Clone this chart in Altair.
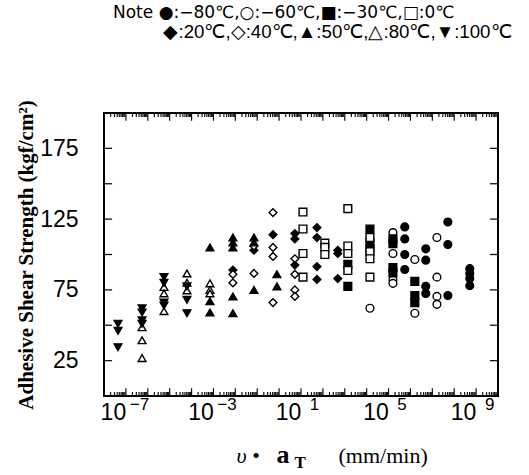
import altair as alt
import pandas as pd

# ---- data (x as log10 of v*aT, y in kgf/cm2) ----
series_names = ["−80℃", "−60℃", "−30℃", "0℃", "20℃", "40℃", "50℃", "80℃", "100℃"]
series_shapes = ["circle", "circle", "square", "square", "diamond", "diamond",
                 "triangle-up", "triangle-up", "triangle-down"]
series_fills = ["black", "white", "black", "white", "black", "white", "black", "white", "black"]
series_sizes = [60, 60, 60, 60, 100, 100, 70, 70, 70]

m80_x = [5.74, 5.74, 5.74, 5.74, 6.70, 6.70, 6.70, 6.70, 7.71, 7.71, 7.71, 8.71, 8.71, 8.71, 8.71]
m80_y = [119.5, 111, 100, 89.4, 104, 96, 77.5, 72.5, 123, 107, 71, 90, 86.6, 83, 78]
m60_x = [4.15, 5.20, 5.20, 5.20, 5.20, 6.20, 6.20, 7.21, 7.21, 7.21, 7.21]
m60_y = [62, 115.5, 100.7, 82, 79.6, 96.5, 58.5, 112, 84, 70.4, 64.8]
m30_x = [3.14, 3.14, 4.15, 4.15, 4.15, 5.20, 5.20, 5.20, 5.20, 6.20, 6.20, 6.20]
m30_y = [93, 77.5, 118, 108.5, 104, 111, 107.7, 90.8, 87, 81, 71, 66]
p0_x = [1.09, 1.09, 1.09, 1.09, 2.09, 2.09, 2.09, 3.14, 3.14, 3.14, 3.14, 4.15, 4.15, 4.15, 4.15]
p0_y = [130, 118, 100.7, 84, 108, 105, 100, 132.4, 106, 100.7, 88.7, 112, 102, 97, 84]
p20_x = [-2.11, -1.15, -0.28, 0.72, 0.72, 0.72, 1.73, 1.73, 1.73, 1.73, 2.68, 2.68, 2.68]
p20_y = [89, 103, 114, 114.8, 111, 92.5, 119, 112, 91.5, 82.4, 103, 100.7, 83]
p40_x = [-2.11, -2.11, -1.15, -1.15, -0.28, -0.28, -0.28, -0.28, 0.72, 0.72, 0.72, 0.72]
p40_y = [86, 80, 106, 86.6, 129.6, 105, 98.6, 66, 97, 86, 75, 70.4]
p50_x = [-3.16, -3.16, -3.16, -2.11, -2.11, -2.11, -2.11, -2.11, -1.15, -1.15, -1.15, -0.10, -0.10]
p50_y = [105, 67, 59, 112, 108.5, 105, 70.4, 58.5, 112, 108.5, 75, 86, 77.5]
p80_x = [-6.26, -6.26, -6.26, -5.26, -5.26, -5.26, -4.21, -4.21, -4.21, -3.16, -3.16, -3.16]
p80_y = [48.6, 39.4, 26.8, 77, 72.5, 60, 86.6, 80, 74.6, 79.6, 75, 72.5]
p100_x = [-7.36, -7.36, -7.36, -6.26, -6.26, -6.26, -6.26, -5.26, -5.26, -5.26, -5.26, -4.21, -4.21, -4.21]
p100_y = [51, 46, 34.5, 62, 59, 53.5, 51, 84, 80, 66, 64, 77.5, 68, 58.5]

xs_all = [m80_x, m60_x, m30_x, p0_x, p20_x, p40_x, p50_x, p80_x, p100_x]
ys_all = [m80_y, m60_y, m30_y, p0_y, p20_y, p40_y, p50_y, p80_y, p100_y]

x_label_values = [1e-7, 1e-3, 1e1, 1e5, 1e9]
y_label_values = [25, 75, 125, 175]
y_tick_values = [25, 50, 75, 100, 125, 150, 175]

note_line1 = "Note ●:−80℃,○:−60℃,■:−30℃,□:0℃"
note_line2 = "\u2060\u2003\u2003\u2002\u2009◆:20℃,◇:40℃,▲:50℃,△:80℃,▼:100℃"

rows = []
for name, xs, ys in zip(series_names, xs_all, ys_all):
    for a, b in zip(xs, ys):
        rows.append({"series": name, "v": 10.0 ** a, "s": b})
df = pd.DataFrame(rows)

W, H = 394, 283
X_LO, X_HI, Y_LO, Y_HI = 1e-8, 1e10, 0, 200     # values at the frame edges
PADPX = 5                                         # scale padding in pixels
pad_dec = PADPX * 18.0 / W
pad_y = PADPX * (Y_HI - Y_LO) / H
xscale = alt.Scale(type="log", domain=[10 ** (-8 + pad_dec), 10 ** (10 - pad_dec)],
                   nice=False, padding=PADPX)
yscale = alt.Scale(domain=[Y_LO + pad_y, Y_HI - pad_y], nice=False, zero=False, padding=PADPX)

# inward frame ticks (positions from the scales; lengths in data units)
major = [10.0 ** k for k in range(-7, 10)]
minor = [m * 10.0 ** k for k in range(-8, 10) for m in range(2, 10)]
MAJ_LEN, MIN_LEN = 5.5, 2.8          # in y units
Y_TICK_DEC = 0.37                     # in decades of x
xt = pd.DataFrame({"v": major + minor,
                   "ln": [MAJ_LEN] * len(major) + [MIN_LEN] * len(minor)})
xt["b0"] = Y_LO
xt["b1"] = Y_LO + xt["ln"]
xt["t0"] = Y_HI
xt["t1"] = Y_HI - xt["ln"]
yt = pd.DataFrame({"s": y_tick_values})
yt["l0"] = X_LO
yt["l1"] = X_LO * 10 ** Y_TICK_DEC
yt["r0"] = X_HI
yt["r1"] = X_HI / 10 ** Y_TICK_DEC

SANS = "Liberation Sans"
SERIF = "Liberation Serif"


def mkaxis(**kw):
    base = dict(grid=False, domain=False, labels=False, ticks=False, title=None)
    base.update(kw)
    return alt.Axis(**base)


ax_x_main = mkaxis(orient="bottom", values=x_label_values, labels=True, labelExpr="'10'",
                   labelFont=SANS, labelFontSize=23, labelColor="black", labelOffset=-13,
                   labelPadding=5, labelFlush=False,
                   title="υ •", titleFont=SERIF, titleFontStyle="italic", titleFontWeight="normal",
                   titleFontSize=22, titleColor="black", titleX=132, titleY=66,
                   titleAlign="left", titleBaseline="alphabetic", titleAngle=0)
ax_x_exp = mkaxis(orient="bottom", values=x_label_values, labels=True,
                  labelExpr="replace(format(round(log(datum.value)/LN10),'d'),'-','−')",
                  labelFont=SANS, labelFontSize=17, labelColor="black", labelOffset=13,
                  labelPadding=0, labelFlush=False,
                  title="a", titleFont=SERIF, titleFontWeight="bold", titleFontSize=26,
                  titleColor="black", titleX=172, titleY=66, titleAlign="left",
                  titleBaseline="alphabetic", titleAngle=0)
ax_x_sub = mkaxis(orient="top", offset=-H,
                  title="T", titleFont=SERIF, titleFontWeight="bold", titleFontSize=17,
                  titleColor="black", titleX=190, titleY=71, titleAlign="left",
                  titleBaseline="alphabetic", titleAngle=0)
ax_x_unit = mkaxis(orient="top", offset=-H,
                   title="(mm/min)", titleFont=SERIF, titleFontWeight="normal",
                   titleFontSize=22, titleColor="black", titleX=234, titleY=66,
                   titleAlign="left", titleBaseline="alphabetic", titleAngle=0)

ax_y_main = mkaxis(orient="left", values=y_label_values, labels=True, labelFont=SANS,
                   labelFontSize=23, labelColor="black", labelPadding=26,
                   title="Adhesive Shear Strength (kgf/cm²)", titleFont=SERIF,
                   titleFontWeight="bold", titleFontSize=21, titleColor="black",
                   titleX=-78, titleY=H / 2, titleAlign="center", titleBaseline="middle",
                   titleAngle=-90)

points = alt.Chart(df).mark_point(opacity=1, fillOpacity=1, stroke="black", strokeWidth=1.4).encode(
    x=alt.X("v:Q", scale=xscale, axis=ax_x_main),
    y=alt.Y("s:Q", scale=yscale, axis=ax_y_main),
    shape=alt.Shape("series:N", scale=alt.Scale(domain=series_names, range=series_shapes), legend=None),
    fill=alt.Fill("series:N", scale=alt.Scale(domain=series_names, range=series_fills), legend=None),
    size=alt.Size("series:N", scale=alt.Scale(domain=series_names, range=series_sizes), legend=None),
)


def ghost(xax):
    return alt.Chart(df).mark_point(opacity=0).encode(
        x=alt.X("v:Q", scale=xscale, axis=xax),
        y=alt.Y("s:Q", scale=yscale, axis=None),
    )


bottom_ticks = alt.Chart(xt).mark_rule(color="#111111", strokeWidth=1.2).encode(
    x=alt.X("v:Q", scale=xscale, axis=None),
    y=alt.Y("b0:Q", scale=yscale, axis=None),
    y2="b1:Q",
)
top_ticks = alt.Chart(xt).mark_bar(color="#111111", size=1.2).encode(
    x=alt.X("v:Q", scale=xscale, axis=None),
    y=alt.Y("t1:Q", scale=yscale, axis=None),
    y2="t0:Q",
)
left_ticks = alt.Chart(yt).mark_rule(color="#111111", strokeWidth=1.3).encode(
    x=alt.X("l0:Q", scale=xscale, axis=None),
    x2="l1:Q",
    y=alt.Y("s:Q", scale=yscale, axis=None),
)
right_ticks = alt.Chart(yt).mark_bar(color="#111111", size=1.3, orient="horizontal").encode(
    x=alt.X("r1:Q", scale=xscale, axis=None),
    x2="r0:Q",
    y=alt.Y("s:Q", scale=yscale, axis=None),
)

chart = alt.layer(
    bottom_ticks,
    top_ticks,
    left_ticks,
    right_ticks,
    ghost(ax_x_exp),
    ghost(ax_x_sub),
    ghost(ax_x_unit),
    points,
).resolve_axis(x="independent", y="independent").properties(
    width=W, height=H,
    autosize=alt.AutoSizeParams(type="none"),
    padding={"left": 104, "top": 113, "right": 31, "bottom": 79},
    background="white",
    title=alt.TitleParams(text=note_line1, subtitle=note_line2, anchor="start", frame="group", dx=9,
                          font="DejaVu Sans", fontSize=17, fontWeight="normal", color="black",
                          subtitleFont=SANS, subtitleFontSize=18.7, subtitleColor="black",
                          subtitlePadding=1, offset=57),
).configure_view(stroke="black", strokeWidth=2)

chart.save("out.html", embed_options={"renderer": "svg", "actions": False})
